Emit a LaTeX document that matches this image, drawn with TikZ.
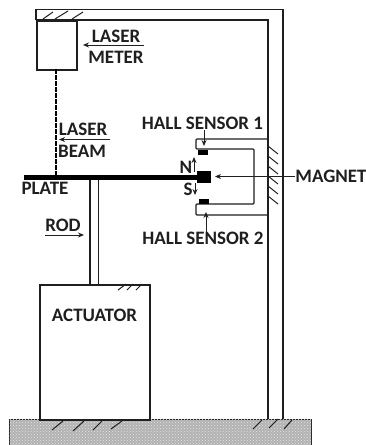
\documentclass[tikz,border=0pt]{standalone}
\usepackage{fontspec}
\setmainfont{Carlito}
\usetikzlibrary{arrows.meta,patterns}
\definecolor{ink}{gray}{0.12}
\definecolor{groundgray}{gray}{0.70}
\tikzset{
  lbl/.style={font=\bfseries\fontsize{19}{19}\selectfont, text=ink, inner sep=0pt, anchor=center},
  line/.style={draw=ink, line width=1.5pt},
  thin line/.style={draw=ink, line width=1.2pt},
  hatch/.style={draw=ink, line width=1pt},
  pointer/.style={draw=ink, line width=0.9pt, -{Stealth[length=6pt,width=5pt]}},
  blackbox/.style={fill=black, draw=none, inner sep=0pt},
  box/.style={draw=ink, line width=1.5pt, fill=white, inner sep=0pt, anchor=north west}
}
\begin{document}
\begin{tikzpicture}[x=1pt,y=-1pt]
\useasboundingbox (0,0) rectangle (366,445);
% ground
\node[draw=ink, line width=1.3pt, fill=groundgray, inner sep=0pt, minimum width=302pt, minimum height=30pt, anchor=north west] (ground) at (8.5,419) {};
\fill[pattern=crosshatch dots, pattern color=gray!20] (ground.north west) rectangle (ground.south east);
\fill[white] (0,445) rectangle (366,450);
% frame
\draw[line] (36,20) -- (36,9.5) -- (283,9.5) -- (283,419);
\draw[line] (36,20) -- (268,20) -- (268,419);
% laser meter
\node[box, minimum width=40pt, minimum height=49pt] (meter) at (36,20) {};
\foreach \a/\b/\c/\d in {43/19/53/12, 55/19/68/11, 72/19/83/12}
  \draw[hatch] (\a,\b) -- (\c,\d);
% actuator
\node[box, minimum width=110pt, minimum height=135pt] (act) at (39,284) {};
\foreach \a/\b/\c/\d in {118/290/126/284, 127/290/133/284, 136/290/142/284,
   52/430/63/421, 73/431/84/421, 93/430/102/421, 111/429/122/421,
   253/429/262/420, 269/428/278/419, 284/429/292/420}
  \draw[hatch] (\a,\b) -- (\c,\d);
% rod
\coordinate (rodLtop) at (90,179); \coordinate (rodRtop) at (98.5,179);
\coordinate (rodLbot) at (90,284); \coordinate (rodRbot) at (98.5,284);
\draw[line] (rodLtop) -- (rodLbot);
\draw[line] (rodRtop) -- (rodRbot);
% plate and magnet
\node[blackbox, minimum width=176pt, minimum height=5pt, anchor=west] (plate) at (24,177) {};
\node[blackbox, minimum width=14pt, minimum height=12pt, anchor=west] (magnet) at (197,177) {};
% laser beam
\coordinate (beamTop) at (55.5,69); \coordinate (beamBot) at (55.5,175);
\draw[draw=black, line width=2pt, dash pattern=on 4.5pt off 1.5pt] (beamTop) -- (beamBot);
% bracket
\draw[thin line, rounded corners=1pt] (268,139) -- (196,139) -- (196,149) -- (254,149) -- (254,204) -- (196,204) -- (196,215) -- (268,215);
% sensors
\node[blackbox, minimum width=10pt, minimum height=5pt, anchor=north west] (s1) at (198,150) {};
\node[blackbox, minimum width=10pt, minimum height=5pt, anchor=north west] (s2) at (198.5,199) {};
% wall hatch
\foreach \y in {146,156,166,176,186,196}
  \draw[hatch] (268,\y) -- (278,\y+8);
% labels
\node[lbl] (laser1) at (116,36) {LASER};
\node[lbl] (meter1) at (116,57) {METER};
\node[lbl] (laser2) at (83,129.5) {LASER};
\node[lbl] (beam2) at (82,151) {BEAM};
\node[lbl] (platel) at (45,188) {PLATE};
\node[lbl] (rodl) at (63,225) {ROD};
\node[lbl] (actl) at (94.5,315) {ACTUATOR};
\node[lbl] (hall1) at (202.5,123) {HALL SENSOR 1};
\node[lbl] (hall2) at (203,238.5) {HALL SENSOR 2};
\node[lbl] (magl) at (331,176.5) {MAGNET};
\node[lbl] (nl) at (186,167) {N};
\node[lbl] (sl) at (188,189) {S};
% pointers
\coordinate (a1) at (144,45); \coordinate (a2) at (83,45);
\draw[pointer] (a1) -- (a2);
\coordinate (b1) at (110,139.5); \coordinate (b2) at (59,139.5);
\draw[pointer] (b1) -- (b2);
\coordinate (r1) at (45,235); \coordinate (r2) at (84,235);
\draw[pointer] (r1) -- (r2);
\draw[pointer] (magl.west) -- (215,176.5);
\draw[pointer] (204,130) -- (204,146);
\draw[pointer] (206,232) -- (206,212);
\draw[pointer] (194,172) -- (194,157);
\draw[pointer] (195,183) -- (195,195);
\end{tikzpicture}
\end{document}
